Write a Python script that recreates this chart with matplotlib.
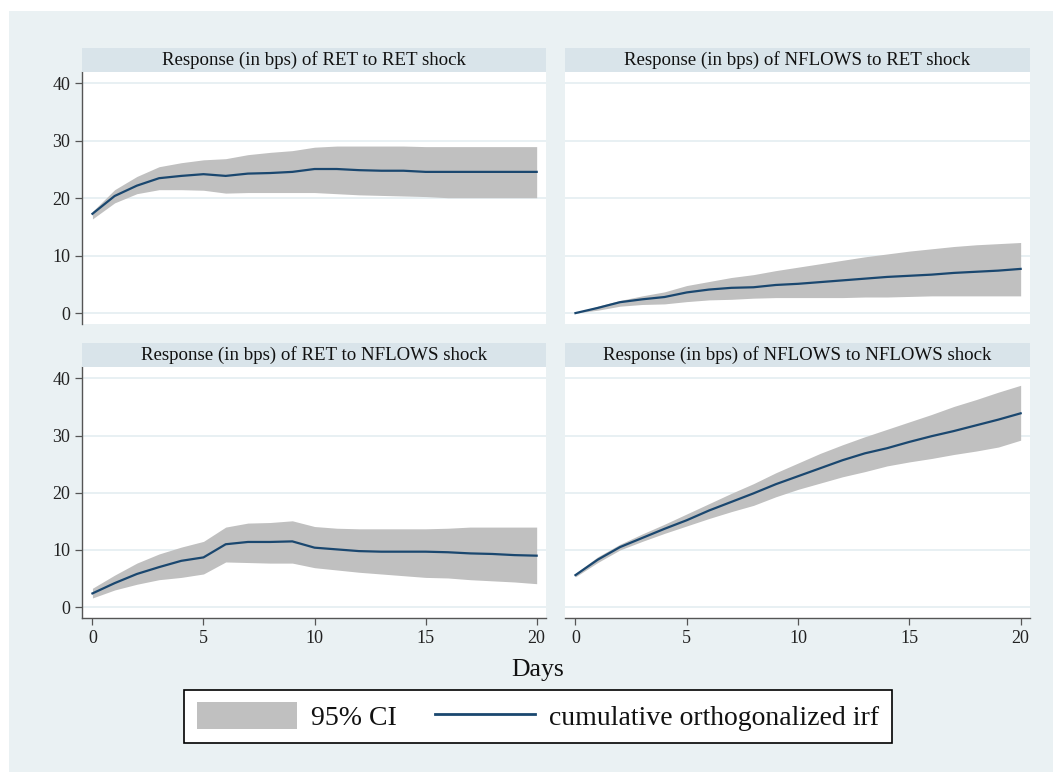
import numpy as np
import matplotlib
matplotlib.use('Agg')
import matplotlib.pyplot as plt
from matplotlib.patches import Rectangle, Patch
from matplotlib.lines import Line2D

plt.rcParams['font.family'] = ['Liberation Serif', 'DejaVu Serif']

# Days after the shock
days = list(range(21))

# Response of RET to RET shock
ret_ret = [17.3, 20.4, 22.2, 23.5, 23.9, 24.2, 23.9, 24.3, 24.4, 24.6, 25.1,
           25.1, 24.9, 24.8, 24.8, 24.6, 24.6, 24.6, 24.6, 24.6, 24.6]
ret_ret_hi = [17.7, 21.5, 23.8, 25.5, 26.2, 26.7, 26.9, 27.6, 28.0, 28.3, 28.9,
              29.1, 29.1, 29.1, 29.1, 29.0, 29.0, 29.0, 29.0, 29.0, 29.0]
ret_ret_lo = [16.4, 19.2, 20.8, 21.5, 21.5, 21.4, 20.9, 21.0, 21.0, 21.0, 21.0,
              20.8, 20.6, 20.5, 20.4, 20.3, 20.1, 20.1, 20.1, 20.1, 20.1]

# Response of NFLOWS to RET shock
nfl_ret = [0.0, 0.9, 1.9, 2.4, 2.8, 3.6, 4.1, 4.4, 4.5, 4.9, 5.1,
           5.4, 5.7, 6.0, 6.3, 6.5, 6.7, 7.0, 7.2, 7.4, 7.7]
nfl_ret_hi = [0.0, 1.2, 2.2, 3.0, 3.7, 4.8, 5.5, 6.2, 6.7, 7.4, 8.0,
              8.6, 9.2, 9.8, 10.3, 10.8, 11.2, 11.6, 11.9, 12.1, 12.3]
nfl_ret_lo = [0.0, 0.5, 1.2, 1.5, 1.6, 2.0, 2.3, 2.4, 2.6, 2.7, 2.7,
              2.7, 2.7, 2.8, 2.8, 2.9, 3.0, 3.0, 3.0, 3.0, 3.0]

# Response of RET to NFLOWS shock
ret_nfl = [2.4, 4.2, 5.8, 7.0, 8.1, 8.7, 11.0, 11.4, 11.4, 11.5, 10.4,
           10.1, 9.8, 9.7, 9.7, 9.7, 9.6, 9.4, 9.3, 9.1, 9.0]
ret_nfl_hi = [3.3, 5.6, 7.7, 9.3, 10.5, 11.5, 14.0, 14.7, 14.8, 15.1, 14.1,
              13.8, 13.7, 13.7, 13.7, 13.7, 13.8, 14.0, 14.0, 14.0, 14.0]
ret_nfl_lo = [1.6, 3.0, 4.0, 4.8, 5.2, 5.8, 7.9, 7.8, 7.7, 7.7, 6.9,
              6.5, 6.1, 5.8, 5.5, 5.2, 5.1, 4.8, 4.6, 4.4, 4.1]

# Response of NFLOWS to NFLOWS shock
nfl_nfl = [5.6, 8.3, 10.5, 12.1, 13.7, 15.2, 16.9, 18.4, 19.9, 21.5, 22.9,
           24.3, 25.7, 26.9, 27.8, 28.9, 29.9, 30.8, 31.8, 32.8, 33.9]
nfl_nfl_hi = [5.9, 8.8, 11.0, 12.8, 14.5, 16.3, 18.1, 19.9, 21.6, 23.5, 25.2,
              26.9, 28.4, 29.8, 31.1, 32.4, 33.7, 35.1, 36.3, 37.6, 38.8]
nfl_nfl_lo = [5.3, 7.8, 10.0, 11.5, 12.9, 14.2, 15.5, 16.7, 17.8, 19.3, 20.6,
              21.7, 22.8, 23.7, 24.7, 25.4, 26.0, 26.7, 27.3, 28.0, 29.2]

titles = ['Response (in bps) of RET to RET shock',
          'Response (in bps) of NFLOWS to RET shock',
          'Response (in bps) of RET to NFLOWS shock',
          'Response (in bps) of NFLOWS to NFLOWS shock']

BG = '#eaf1f3'
STRIP = '#d9e4ea'
BAND = '#c0c0c0'
LINE = '#1a476f'
AXIS = '#555555'

fig = plt.figure(figsize=(10.53, 7.72), dpi=100, facecolor='white')
fig.add_artist(Rectangle((9 / 1053, 0), 1, 1 - 11 / 772, transform=fig.transFigure,
                         facecolor=BG, edgecolor='none', zorder=0))

# panel positions [left, bottom, width, height] in figure fraction
lefts = [82 / 1053, 565 / 1053]
widths = [464 / 1053, 465 / 1053]
bottoms = [1 - 324 / 772, 1 - 618 / 772]
heights = [252 / 772, 251 / 772]
strip_h = 24 / 772

panels = [(ret_ret, ret_ret_lo, ret_ret_hi), (nfl_ret, nfl_ret_lo, nfl_ret_hi),
          (ret_nfl, ret_nfl_lo, ret_nfl_hi), (nfl_nfl, nfl_nfl_lo, nfl_nfl_hi)]

for k, (irf, lo, hi) in enumerate(panels):
    row, col = divmod(k, 2)
    ax = fig.add_axes([lefts[col], bottoms[row], widths[col], heights[row]])
    ax.set_facecolor('white')
    ax.fill_between(days, lo, hi, color=BAND, linewidth=0, zorder=2)
    ax.plot(days, irf, color=LINE, linewidth=1.6, zorder=3)
    ax.set_xlim(-0.47, 20.42)
    ax.set_ylim(-1.9, 42.0)
    ax.set_yticks([0, 10, 20, 30, 40])
    ax.set_xticks([0, 5, 10, 15, 20])
    ax.grid(axis='y', color='#e6eff2', linewidth=1.3, zorder=1)
    for s in ['top', 'right']:
        ax.spines[s].set_visible(False)
    ax.spines['left'].set_color(AXIS)
    ax.spines['bottom'].set_color(AXIS)
    ax.spines['left'].set_linewidth(1.0)
    ax.spines['bottom'].set_linewidth(1.0)
    ax.tick_params(colors=AXIS, labelcolor='#222222', labelsize=13, length=5, width=0.9)
    if col == 1:
        ax.spines['left'].set_visible(False)
        ax.tick_params(axis='y', left=False, labelleft=False)
    if row == 0:
        ax.spines['bottom'].set_visible(False)
        ax.tick_params(axis='x', bottom=False, labelbottom=False)

    # title strip
    sax = fig.add_axes([lefts[col], bottoms[row] + heights[row], widths[col], strip_h])
    sax.set_facecolor(STRIP)
    sax.set_xticks([])
    sax.set_yticks([])
    for s in sax.spines.values():
        s.set_visible(False)
    sax.text(0.5, 0.5, titles[k], ha='center', va='center', fontsize=13.6, color='#111111',
             transform=sax.transAxes)

fig.text(0.511, 1 - 670 / 772, 'Days', ha='center', va='center', fontsize=18.5, color='#111111')

handles = [Patch(facecolor=BAND, edgecolor='none'), Line2D([], [], color=LINE, linewidth=2)]
leg = fig.legend(handles, ['95% CI', 'cumulative orthogonalized irf'], loc='center',
                 bbox_to_anchor=(0.511, 1 - 716.5 / 772), ncol=2, fontsize=20,
                 frameon=True, fancybox=False, edgecolor='black', framealpha=1,
                 handlelength=3.6, handleheight=1.1, handletextpad=0.5, columnspacing=1.4,
                 borderpad=0.45, borderaxespad=0)
leg.get_frame().set_linewidth(1.2)
for t in leg.get_texts():
    t.set_color('#111111')

fig.savefig('out.png', dpi=100, facecolor=fig.get_facecolor())
